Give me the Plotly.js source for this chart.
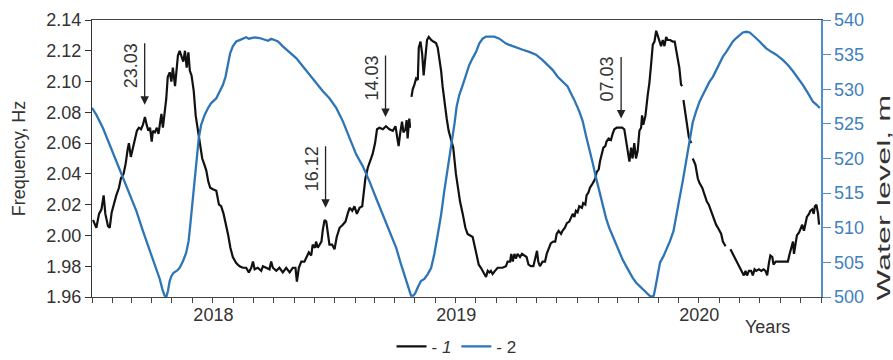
<!DOCTYPE html>
<html>
<head>
<meta charset="utf-8">
<script src="https://cdn.plot.ly/plotly-3.0.1.min.js"></script>
<style>html,body{margin:0;padding:0;background:#fff;}#chart{width:893px;height:360px;}</style>
</head>
<body>
<div id="chart"></div>
<script>
// Series 1: natural frequency, Hz (decimal years; null = gap in record)
const freqYears = [
2018.004,2018.018,2018.029,2018.039,2018.048,2018.055,2018.066,2018.073,2018.081,2018.089,
2018.100,2018.111,2018.119,2018.130,2018.139,2018.147,2018.152,2018.160,2018.169,2018.177,
2018.185,2018.193,2018.202,2018.210,2018.218,2018.225,2018.232,2018.239,2018.246,2018.251,
2018.259,2018.267,2018.274,2018.281,2018.286,2018.292,2018.299,2018.306,2018.312,2018.320,
2018.327,2018.333,2018.342,2018.347,2018.354,2018.361,2018.369,2018.376,2018.383,2018.390,
2018.397,2018.403,2018.410,2018.419,2018.427,2018.436,2018.446,2018.454,2018.463,2018.471,
2018.479,2018.487,2018.498,2018.512,2018.523,2018.532,2018.542,2018.553,2018.560,2018.570,
2018.580,2018.594,2018.608,2018.621,2018.635,2018.646,2018.656,2018.663,2018.670,2018.683,
2018.697,2018.704,2018.718,2018.731,2018.738,2018.745,2018.759,2018.772,2018.786,2018.800,
2018.814,2018.827,2018.838,2018.844,2018.852,2018.862,2018.875,2018.885,2018.893,2018.903,
2018.909,2018.918,2018.923,2018.930,2018.937,2018.945,2018.951,2018.958,2018.965,2018.971,
2018.978,2018.989,2018.999,2019.008,2019.020,2019.033,2019.044,2019.053,2019.061,2019.072,
2019.081,2019.091,2019.102,2019.113,2019.118,2019.126,2019.136,2019.146,2019.156,2019.166,
2019.174,2019.184,2019.198,2019.211,2019.225,2019.239,2019.250,2019.258,2019.263,2019.269,
2019.277,2019.283,2019.291,2019.296,2019.300,2019.307,2019.310,2019.313,2019.316,2019.321,
2019.328,2019.335,2019.342,2019.346,2019.353,2019.360,2019.366,2019.373,2019.380,2019.387,
2019.397,2019.406,2019.417,2019.424,2019.431,2019.438,2019.444,2019.451,2019.461,2019.469,
2019.479,2019.488,2019.499,2019.506,2019.516,2019.527,2019.538,2019.547,2019.557,2019.568,
2019.575,2019.582,2019.593,2019.602,2019.609,2019.616,2019.623,2019.630,2019.637,2019.643,
2019.650,2019.660,2019.671,2019.691,2019.705,2019.712,2019.722,2019.727,2019.733,2019.740,
2019.746,2019.753,2019.763,2019.771,2019.781,2019.790,2019.798,2019.808,2019.818,2019.826,
2019.833,2019.838,2019.845,2019.856,2019.866,2019.873,2019.881,2019.890,2019.900,2019.908,
2019.914,2019.922,2019.932,2019.938,2019.948,2019.956,2019.966,2019.973,2019.980,2019.987,
2019.993,2020.000,2020.007,2020.018,2020.023,2020.032,2020.037,2020.045,2020.051,2020.059,
2020.065,2020.073,2020.078,2020.087,2020.092,2020.100,2020.106,2020.114,2020.119,2020.128,
2020.137,2020.144,2020.151,2020.161,2020.172,2020.183,2020.192,2020.199,2020.206,2020.213,
2020.220,2020.226,2020.233,2020.240,2020.247,2020.254,2020.261,2020.265,2020.270,2020.279,
2020.288,2020.295,2020.302,2020.309,2020.316,2020.323,2020.329,2020.336,2020.343,2020.350,
2020.357,2020.364,2020.370,2020.380,2020.391,2020.399,2020.405,2020.412,2020.418,2020.425,
2020.430,2020.432,2020.435,2020.446,2020.457,2020.467,2020.470,2020.473,2020.484,2020.494,
2020.501,2020.512,2020.521,2020.531,2020.539,2020.549,2020.558,2020.569,2020.580,2020.590,
2020.597,2020.608,2020.618,2020.628,2020.638,2020.649,2020.659,2020.668,2020.676,2020.683,
2020.690,2020.696,2020.704,2020.713,2020.720,2020.727,2020.734,2020.745,2020.755,2020.764,
2020.772,2020.779,2020.786,2020.792,2020.800,2020.805,2020.814,2020.823,2020.833,2020.844,
2020.855,2020.864,2020.871,2020.878,2020.885,2020.889,2020.896,2020.901,2020.910,2020.916,
2020.923,2020.930,2020.937,2020.942,2020.951,2020.956,2020.964,2020.970,2020.975,2020.981,
2020.988,2020.992
];
const freqHz = [
2.010,2.005,2.014,2.017,2.026,2.014,2.006,2.005,2.015,2.020,
2.026,2.031,2.037,2.040,2.047,2.056,2.060,2.051,2.058,2.063,
2.068,2.070,2.069,2.072,2.077,2.072,2.068,2.070,2.061,2.068,
2.067,2.070,2.066,2.074,2.079,2.070,2.078,2.089,2.103,2.106,
2.100,2.109,2.097,2.104,2.117,2.120,2.116,2.113,2.120,2.109,
2.119,2.107,2.104,2.094,2.078,2.069,2.057,2.050,2.046,2.042,
2.035,2.031,2.030,2.029,2.020,2.019,2.014,2.007,2.001,1.992,
1.986,1.982,1.980,1.979,1.979,1.976,1.979,1.983,1.978,1.979,
1.977,1.980,1.979,1.978,1.983,1.979,1.977,1.979,1.976,1.979,
1.976,1.979,1.979,1.970,1.979,1.983,1.983,1.986,1.989,1.987,
1.994,1.992,1.996,1.992,1.994,1.996,2.004,2.010,2.009,2.003,
1.994,1.994,1.991,1.999,2.005,2.007,2.009,2.014,2.018,2.016,
2.019,2.014,2.018,2.019,2.027,2.037,2.044,2.048,2.053,2.060,
2.069,2.070,2.069,2.071,2.069,2.068,2.071,2.063,2.058,2.066,
2.074,2.067,2.069,2.075,2.063,2.076,2.070,null,2.090,2.095,
2.098,2.102,2.101,2.122,2.126,2.118,2.104,2.117,2.127,2.129,
2.127,2.126,2.125,2.122,2.115,2.107,2.097,2.087,2.076,2.068,
2.063,2.057,2.040,2.031,2.022,2.014,2.005,2.001,2.000,1.999,
1.994,1.988,1.981,1.979,1.977,1.975,1.973,1.977,1.976,1.977,
1.975,1.977,1.979,1.979,1.980,1.983,1.983,1.988,1.983,1.988,
1.985,1.988,1.986,1.988,1.987,1.986,1.981,1.980,1.980,1.986,
1.990,1.983,1.980,1.983,1.983,1.988,1.991,1.995,1.996,1.996,
2.001,2.003,2.001,2.003,2.005,2.008,2.009,2.012,2.014,2.012,
2.016,2.015,2.019,2.018,2.021,2.020,2.026,2.028,2.031,2.033,
2.035,2.037,2.041,2.043,2.048,2.053,2.057,2.058,2.061,2.063,
2.062,2.066,2.069,2.070,2.070,2.070,2.069,2.061,2.053,2.048,
2.057,2.050,2.060,2.050,2.055,2.068,2.070,2.078,2.072,2.078,
2.091,2.099,2.111,2.124,2.126,2.133,2.130,2.126,2.123,2.127,
2.123,2.129,2.127,2.127,2.126,2.126,2.120,2.115,2.109,2.098,
2.097,null,2.088,2.075,2.064,2.060,null,2.050,2.046,2.037,
2.034,2.031,2.026,2.022,2.020,2.016,2.012,2.007,2.004,2.001,
1.996,1.993,null,1.991,1.988,1.985,1.982,1.979,1.977,1.974,
1.977,1.974,1.977,1.977,1.974,1.978,1.977,1.978,1.977,1.978,
1.977,1.974,1.982,1.987,1.986,1.981,1.983,1.983,1.983,1.983,
1.983,1.983,1.988,1.992,1.996,1.988,1.994,2.000,2.002,2.005,
2.007,2.003,2.008,2.012,2.014,2.016,2.017,2.014,2.019,2.020,
2.014,2.007
];

// Series 2: reservoir water level, m
const levelYears = [
2018.000,2018.018,2018.045,2018.073,2018.100,2018.128,2018.155,2018.183,2018.210,2018.237,
2018.265,2018.279,2018.290,2018.299,2018.306,2018.313,2018.320,2018.327,2018.336,2018.350,
2018.361,2018.375,2018.388,2018.398,2018.405,2018.413,2018.423,2018.432,2018.440,2018.450,
2018.464,2018.478,2018.491,2018.512,2018.526,2018.539,2018.550,2018.560,2018.569,2018.580,
2018.594,2018.608,2018.622,2018.635,2018.646,2018.656,2018.670,2018.690,2018.711,2018.725,
2018.738,2018.752,2018.766,2018.786,2018.814,2018.841,2018.869,2018.896,2018.923,2018.951,
2018.978,2019.006,2019.033,2019.061,2019.088,2019.115,2019.143,2019.170,2019.198,2019.225,
2019.253,2019.273,2019.291,2019.305,2019.314,2019.324,2019.332,2019.342,2019.355,2019.369,
2019.383,2019.397,2019.410,2019.424,2019.438,2019.451,2019.465,2019.479,2019.486,2019.493,
2019.502,2019.513,2019.527,2019.541,2019.554,2019.568,2019.582,2019.595,2019.609,2019.623,
2019.637,2019.657,2019.678,2019.691,2019.705,2019.719,2019.733,2019.746,2019.774,2019.801,
2019.829,2019.856,2019.877,2019.897,2019.918,2019.938,2019.959,2019.973,2019.986,2020.007,
2020.021,2020.034,2020.048,2020.062,2020.076,2020.089,2020.103,2020.117,2020.130,2020.144,
2020.158,2020.172,2020.185,2020.199,2020.213,2020.226,2020.240,2020.254,2020.268,2020.281,
2020.295,2020.306,2020.313,2020.320,2020.329,2020.339,2020.353,2020.366,2020.380,2020.394,
2020.405,2020.418,2020.432,2020.443,2020.453,2020.462,2020.473,2020.487,2020.501,2020.515,
2020.528,2020.542,2020.556,2020.569,2020.583,2020.597,2020.611,2020.624,2020.638,2020.652,
2020.665,2020.679,2020.693,2020.707,2020.720,2020.734,2020.748,2020.761,2020.775,2020.796,
2020.816,2020.844,2020.864,2020.885,2020.906,2020.926,2020.947,2020.967,2020.981,2020.995
];
const levelM = [
527.3,526.3,524.4,522.0,519.6,517.2,514.8,512.4,509.5,506.9,
504.2,502.6,501.1,500.2,500.0,500.9,502.3,503.0,503.5,503.8,
504.2,505.2,506.4,508.1,510.5,513.4,516.7,520.1,523.0,524.9,
526.3,527.3,528.0,528.7,529.7,530.6,531.8,533.5,535.2,536.2,
536.9,537.1,537.3,537.5,537.3,537.4,537.5,537.4,537.1,537.0,
537.3,537.1,536.9,536.2,535.4,534.5,533.3,532.1,530.9,529.7,
528.7,527.3,525.4,523.0,520.6,518.9,516.7,514.3,511.9,509.5,
507.1,504.7,502.6,500.9,500.2,500.2,500.6,501.4,502.3,502.6,
503.3,504.2,506.2,509.0,511.9,515.3,518.6,521.2,523.4,525.0,
527.5,529.2,530.6,532.1,533.5,534.5,535.4,536.6,537.3,537.6,
537.6,537.6,537.3,536.9,536.6,536.4,536.2,536.0,535.7,535.4,
535.0,534.2,533.5,532.8,531.8,531.1,530.4,529.4,528.5,526.8,
525.4,523.4,521.5,519.4,517.2,515.3,513.4,511.4,510.0,508.8,
507.6,506.4,505.4,504.5,503.5,502.8,502.1,501.6,501.1,500.6,
500.2,500.0,500.2,501.4,503.3,505.0,505.9,506.9,508.1,509.5,
511.4,514.1,516.7,519.1,521.5,523.4,525.2,526.8,528.2,529.2,
530.2,531.1,531.8,532.8,533.8,534.7,535.4,536.2,536.9,537.4,
537.8,538.2,538.3,538.2,537.8,537.4,536.9,536.4,535.9,535.4,
535.0,534.2,533.5,532.6,531.6,530.6,529.4,528.2,527.8,527.3
];

// Arrow annotations (dates of events)
const eventLabels = ['23.03', '16.12', '14.03', '07.03'];
const eventYears = [2018.217, 2018.962, 2019.209, 2020.179];
const eventHz = [2.085, 2.018, 2.077, 2.076];

const axisRangeYears = [2018, 2021];
const freqRange = [1.96, 2.14];
const levelRange = [500, 540];

function toDate(t) {
  const y = Math.floor(t);
  const a = Date.UTC(y, 0, 1), b = Date.UTC(y + 1, 0, 1);
  return new Date(a + (t - y) * (b - a)).toISOString().slice(0, 19).replace('T', ' ');
}

const FONT = 'Liberation Sans, Arial, sans-serif';
const FS = 18;
const DARK = '#333333';
const BLUE = '#2e75b6';
const BLUE_AX = '#4f8fca';
const RIGHT_TITLE = 'Water level, m';

const traces = [
  {
    x: freqYears.map(toDate), y: freqHz, type: 'scatter', mode: 'lines',
    name: '- <i>1</i>', line: {color: '#111111', width: 2.2}, connectgaps: false,
    xaxis: 'x', yaxis: 'y'
  },
  {
    x: levelYears.map(toDate), y: levelM, type: 'scatter', mode: 'lines',
    name: '- 2', line: {color: BLUE, width: 2.3},
    xaxis: 'x', yaxis: 'y2'
  }
];

const annotations = [];
eventLabels.forEach((lab, i) => {
  annotations.push({
    x: toDate(eventYears[i]), y: eventHz[i], xref: 'x', yref: 'y',
    text: '', showarrow: true, ax: 0, ay: -63, axref: 'pixel', ayref: 'pixel',
    arrowhead: 2, arrowsize: 1.3, arrowwidth: 1.3, arrowcolor: '#222'
  });
  annotations.push({
    x: toDate(eventYears[i]), y: eventHz[i], xref: 'x', yref: 'y',
    text: lab, showarrow: false, textangle: -90, xshift: -14, yshift: 39,
    xanchor: 'center', yanchor: 'middle',
    font: {family: FONT, size: FS, color: DARK}
  });
});
annotations.push({
  text: 'Years', xref: 'paper', yref: 'paper', x: 0.927, y: -0.108,
  xanchor: 'center', yanchor: 'middle', showarrow: false,
  font: {family: FONT, size: FS, color: DARK}
});
annotations.push({
  text: RIGHT_TITLE, xref: 'paper', yref: 'paper', x: 1.087, y: 0.36,
  xanchor: 'center', yanchor: 'middle', showarrow: false, textangle: -90,
  font: {family: FONT, size: FS, color: DARK}
});

const layout = {
  width: 893, height: 360,
  margin: {l: 92, r: 72, t: 20, b: 63, pad: 0, autoexpand: false},
  paper_bgcolor: '#ffffff', plot_bgcolor: '#ffffff',
  font: {family: FONT, size: FS, color: DARK},
  showlegend: true,
  legend: {
    orientation: 'h', x: 0.5, xanchor: 'center', y: -0.115, yanchor: 'top',
    font: {family: FONT, size: 17, color: DARK}, itemwidth: 30,
    bgcolor: 'rgba(0,0,0,0)', tracegroupgap: 0
  },
  xaxis: {
    type: 'date', range: axisRangeYears.map(toDate),
    tick0: '2018-01-01', dtick: 'M12', ticklabelmode: 'period', tickformat: '%Y',
    ticks: 'outside', ticklen: 5, tickwidth: 1, tickcolor: '#444',
    ticklabelstandoff: -4,
    showline: true, linecolor: '#444', linewidth: 1.2, mirror: true,
    showgrid: false, zeroline: false,
    minor: {dtick: 'M1', tick0: '2018-01-01', ticks: 'outside', ticklen: 5, tickcolor: '#444', showgrid: false},
    tickfont: {family: FONT, size: FS, color: DARK}
  },
  xaxis2: {
    type: 'date', range: axisRangeYears.map(toDate), overlaying: 'x', anchor: 'y',
    tick0: '2018-01-01', dtick: 'M12', ticks: 'inside', ticklen: 8, tickcolor: '#444',
    showticklabels: false, showline: false, showgrid: false, zeroline: false
  },
  yaxis: {
    range: freqRange, dtick: 0.02, tickformat: '.2f',
    ticks: 'outside', ticklen: 6, tickcolor: '#333',
    showline: true, linecolor: '#333', linewidth: 1.2,
    showgrid: false, zeroline: false,
    title: {text: 'Frequency, Hz', font: {family: FONT, size: FS, color: DARK}, standoff: 15},
    tickfont: {family: FONT, size: FS, color: DARK}
  },
  yaxis3: {
    range: freqRange, dtick: 0.02, overlaying: 'y', side: 'left', anchor: 'x',
    ticks: 'inside', ticklen: 7, tickcolor: '#333',
    showticklabels: false, showline: false, showgrid: false, zeroline: false
  },
  yaxis2: {
    range: levelRange, dtick: 5, overlaying: 'y', side: 'right', anchor: 'x',
    ticks: 'outside', ticklen: 8, tickcolor: BLUE_AX,
    showline: true, linecolor: BLUE_AX, linewidth: 1.5,
    showgrid: false, zeroline: false,
    tickfont: {family: FONT, size: FS, color: '#3f80c0'}
  },
  yaxis4: {
    range: levelRange, dtick: 5, overlaying: 'y', side: 'right', anchor: 'x',
    ticks: 'inside', ticklen: 7, tickcolor: BLUE_AX,
    showticklabels: false, showline: false, showgrid: false, zeroline: false
  },
  annotations: annotations
};

Plotly.newPlot('chart', traces, layout, {staticPlot: true, displayModeBar: false}).then(gd => {
  // the reference's right-hand title is drawn stretched along its length
  gd.querySelectorAll('text.annotation-text').forEach(t => {
    if (t.textContent === RIGHT_TITLE) {
      const bb = t.getBBox();
      const cx = bb.x + bb.width / 2, cy = bb.y + bb.height / 2;
      t.setAttribute('transform', `translate(${cx},${cy}) scale(1.8,1) translate(${-cx},${-cy})`);
    }
  });
});
</script>
</body>
</html>
